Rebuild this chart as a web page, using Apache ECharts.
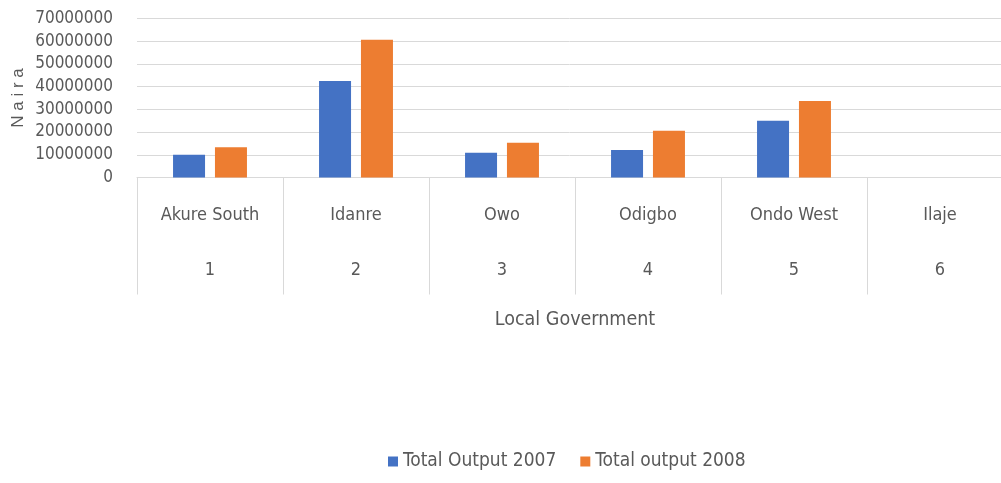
<!DOCTYPE html>
<html>
<head>
<meta charset="utf-8">
<script src="https://cdn.jsdelivr.net/npm/echarts@6/dist/echarts.min.js"></script>
<style>
  html, body { margin: 0; padding: 0; background: #fff; }
</style>
</head>
<body>
<div id="main" style="width: 1001px;height:483px;"></div>
<script type="text/javascript">
    // data
    var categories = ['Akure South', 'Idanre', 'Owo', 'Odigbo', 'Ondo West', 'Ilaje'];
    var catNumbers = ['1', '2', '3', '4', '5', '6'];
    var output2007 = [10000000, 42500000, 10900000, 12100000, 25000000, 0];
    var output2008 = [13300000, 60600000, 15300000, 20600000, 33700000, 0];
    var seriesNames = ['Total Output 2007', 'Total output 2008'];

    var narrow = '"Liberation Sans Narrow", "DejaVu Sans Condensed", "Liberation Sans", sans-serif';
    var myChart = echarts.init(document.getElementById('main'));
    var option = {
        color: ['#4472C4', '#ED7D31'],
        animation: false,
        grid: {
            left: 137,
            right: -12,
            top: 18.5,
            bottom: 305.5,
            containLabel: false,
            outerBoundsMode: 'none'
        },
        legend: {
            data: seriesNames,
            left: 383,
            bottom: 7,
            itemWidth: 10,
            itemHeight: 10,
            itemGap: 24,
            icon: 'rect',
            textStyle: { color: '#595959', fontSize: 19, fontFamily: narrow }
        },
        xAxis: [
            {
                type: 'category',
                data: categories,
                name: 'Local Government',
                nameLocation: 'middle',
                nameGap: 132,
                nameMoveOverlap: false,
                nameTextStyle: { color: '#595959', fontSize: 19.5, fontFamily: narrow },
                axisLine: { show: true, lineStyle: { color: '#d9d9d9' } },
                axisTick: { show: true, alignWithLabel: false, length: 117, lineStyle: { color: '#d9d9d9' } },
                axisLabel: { color: '#595959', fontSize: 18, fontFamily: narrow, margin: 29 }
            },
            {
                type: 'category',
                data: catNumbers,
                position: 'bottom',
                axisLine: { show: false },
                axisTick: { show: false },
                axisLabel: { color: '#595959', fontSize: 18, fontFamily: narrow, margin: 84 }
            }
        ],
        yAxis: {
            type: 'value',
            min: 0,
            max: 70000000,
            interval: 10000000,
            name: 'N a i r a',
            nameLocation: 'middle',
            nameGap: 110,
            nameMoveOverlap: false,
            nameTextStyle: { color: '#595959', fontSize: 17, fontFamily: 'Liberation Sans, sans-serif' },
            axisLabel: {
                color: '#595959', fontSize: 17, fontFamily: narrow, margin: 24,
                formatter: function (v) { return String(v); }
            },
            splitLine: { lineStyle: { color: '#d9d9d9' } }
        },
        series: [
            {
                name: seriesNames[0],
                type: 'bar',
                barWidth: 32,
                barGap: '31%',
                data: output2007
            },
            {
                name: seriesNames[1],
                type: 'bar',
                barWidth: 32,
                barGap: '31%',
                data: output2008
            }
        ]
    };
    myChart.setOption(option);
</script>
</body>
</html>
